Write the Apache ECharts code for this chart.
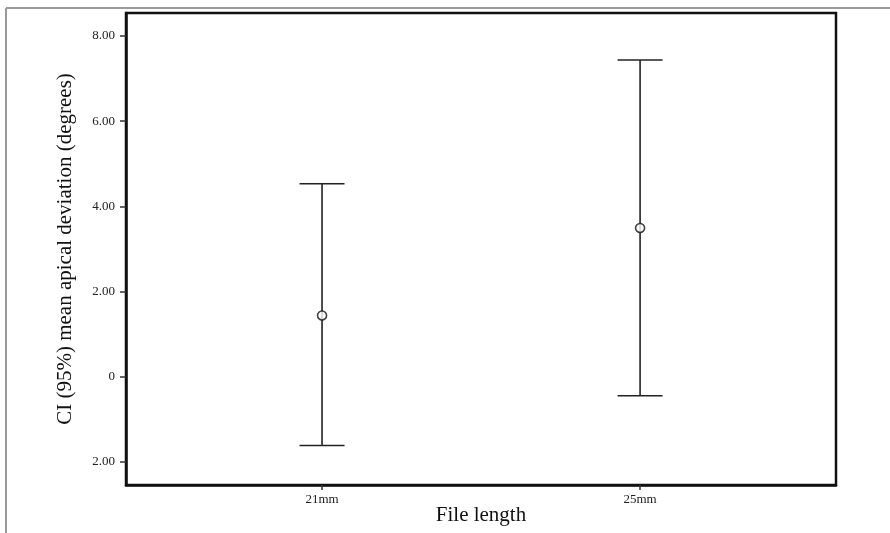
<!DOCTYPE html>
<html>
<head>
<meta charset="utf-8">
<script src="https://cdn.jsdelivr.net/npm/echarts@6/dist/echarts.min.js"></script>
<style>
  html, body { margin: 0; padding: 0; background: #fff; }
  #chart { width: 890px; height: 533px; }
</style>
</head>
<body>
<div id="chart"></div>
<script>
// categories and their positions on the x scale
const categories = ['21mm', '25mm'];
const catPos = [1, 2];

// 95% CI of mean apical deviation
const lowerCI = [-1.62, -0.45];
const meanVal = [1.435, 3.49];
const upperCI = [4.53, 7.435];

// y tick values and the labels as printed
const yTicks = [-2, 0, 2, 4, 6, 8];
const yTickLabels = ['2.00', '0', '2.00', '4.00', '6.00', '8.00'];

const serif = '"Liberation Serif", "DejaVu Serif", serif';

var myChart = echarts.init(document.getElementById('chart'));

const barData = catPos.map((x, i) => [x, lowerCI[i], upperCI[i]]);
const meanData = catPos.map((x, i) => [x, meanVal[i]]);

const option = {
  animation: false,
  backgroundColor: '#fff',
  grid: {
    left: 126,
    right: 54,
    top: 13,
    bottom: 48,
    show: true,
    borderColor: '#111',
    borderWidth: 2.5,
    containLabel: false,
    outerBoundsMode: 'none'
  },
  xAxis: {
    type: 'value',
    min: 0.3836,
    max: 2.616,
    name: 'File length',
    nameLocation: 'middle',
    nameGap: 20,
    nameMoveOverlap: false,
    nameTextStyle: { fontFamily: serif, fontSize: 21, color: '#111' },
    splitLine: { show: false },
    axisLine: { show: true, onZero: false, lineStyle: { color: '#111', width: 2.5 } },
    axisTick: { show: true, customValues: catPos, length: 5, lineStyle: { color: '#333', width: 1.5 } },
    axisLabel: {
      customValues: catPos,
      fontFamily: serif,
      fontSize: 13,
      color: '#222',
      margin: 8,
      formatter: v => categories[catPos.indexOf(v)] || ''
    }
  },
  yAxis: {
    type: 'value',
    min: -2.547,
    max: 8.54,
    name: 'CI (95%) mean apical deviation (degrees)',
    nameLocation: 'middle',
    nameGap: 50,
    nameMoveOverlap: false,
    nameTextStyle: { fontFamily: serif, fontSize: 21, color: '#111' },
    splitLine: { show: false },
    axisLine: { show: true, onZero: false, lineStyle: { color: '#111', width: 2.5 } },
    axisTick: { show: true, customValues: yTicks, length: 6, lineStyle: { color: '#333', width: 1.5 } },
    axisLabel: {
      customValues: yTicks,
      fontFamily: serif,
      fontSize: 13,
      color: '#222',
      margin: 11,
      formatter: v => yTickLabels[yTicks.indexOf(v)] || ''
    }
  },
  series: [
    {
      type: 'custom',
      data: barData,
      renderItem: function (params, api) {
        const x = api.value(0);
        const lo = api.coord([x, api.value(1)]);
        const hi = api.coord([x, api.value(2)]);
        const half = 22.5;
        const style = { stroke: '#222', lineWidth: 1.6 };
        return {
          type: 'group',
          children: [
            { type: 'line', shape: { x1: lo[0], y1: lo[1], x2: hi[0], y2: hi[1] }, style: style },
            { type: 'line', shape: { x1: hi[0] - half, y1: hi[1], x2: hi[0] + half, y2: hi[1] }, style: style },
            { type: 'line', shape: { x1: lo[0] - half, y1: lo[1], x2: lo[0] + half, y2: lo[1] }, style: style }
          ]
        };
      },
      z: 2
    },
    {
      type: 'scatter',
      data: meanData,
      symbol: 'circle',
      symbolSize: 9,
      itemStyle: { color: '#fff', borderColor: '#111', borderWidth: 1.6 },
      z: 3
    }
  ],
  graphic: [
    { type: 'line', shape: { x1: 6, y1: 8, x2: 890, y2: 8 }, style: { stroke: '#9a9a9a', lineWidth: 2 } },
    { type: 'line', shape: { x1: 6, y1: 8, x2: 6, y2: 533 }, style: { stroke: '#9a9a9a', lineWidth: 2 } }
  ]
};

myChart.setOption(option);
</script>
</body>
</html>
